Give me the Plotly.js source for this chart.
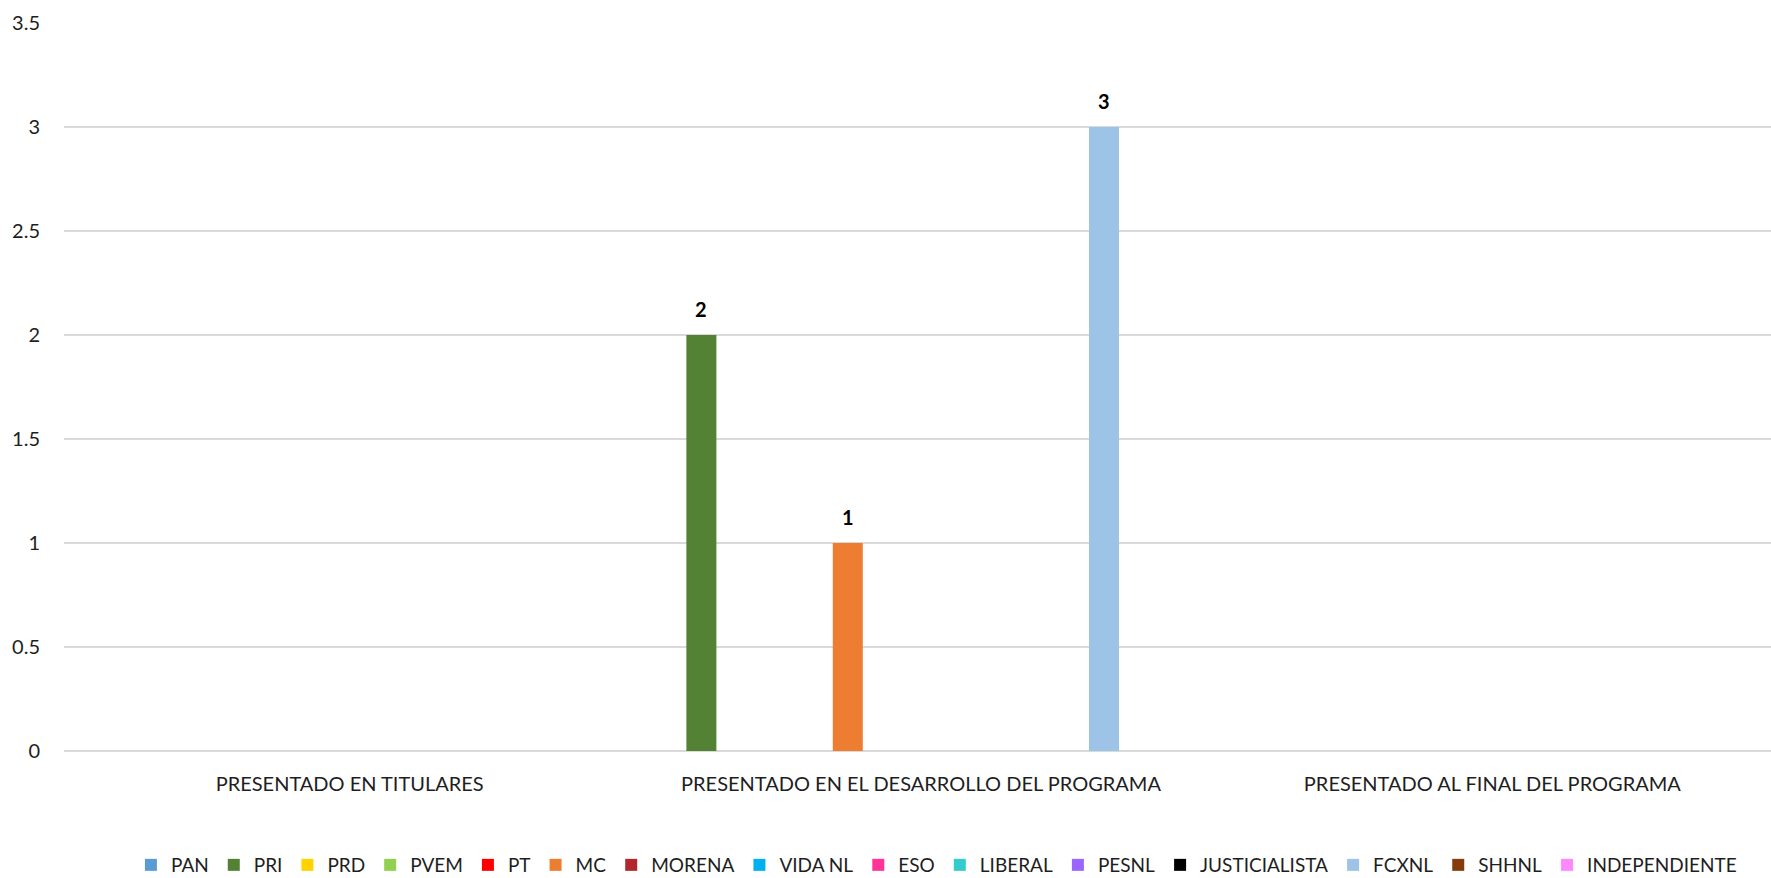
<!DOCTYPE html>
<html>
<head>
<meta charset="utf-8">
<script src="https://cdn.plot.ly/plotly-3.0.1.min.js"></script>
<style>
html,body{margin:0;padding:0;overflow:hidden;background:#fff;}
#chart{width:1778px;height:878px;}
</style>
</head>
<body>
<div id="chart"></div>
<script>
var categories = ["PRESENTADO EN TITULARES", "PRESENTADO EN EL DESARROLLO DEL PROGRAMA", "PRESENTADO AL FINAL DEL PROGRAMA"];
var parties = ["PAN","PRI","PRD","PVEM","PT","MC","MORENA","VIDA NL","ESO","LIBERAL","PESNL","JUSTICIALISTA","FCXNL","SHHNL","INDEPENDIENTE"];
var colors = ["#5B9BD5","#548235","#FFD200","#92D050","#FF0000","#ED7D31","#B0282E","#00B0F0","#FF3399","#33CCCC","#9966FF","#000000","#9DC3E6","#843C0C","#FF88FF"];
var PAN = [0,0,0];
var PRI = [0,2,0];
var PRD = [0,0,0];
var PVEM = [0,0,0];
var PT = [0,0,0];
var MC = [0,1,0];
var MORENA = [0,0,0];
var VIDA_NL = [0,0,0];
var ESO = [0,0,0];
var LIBERAL = [0,0,0];
var PESNL = [0,0,0];
var JUSTICIALISTA = [0,0,0];
var FCXNL = [0,3,0];
var SHHNL = [0,0,0];
var INDEPENDIENTE = [0,0,0];
var values = [PAN,PRI,PRD,PVEM,PT,MC,MORENA,VIDA_NL,ESO,LIBERAL,PESNL,JUSTICIALISTA,FCXNL,SHHNL,INDEPENDIENTE];

var FONT = "Lato, 'Liberation Sans Narrow', sans-serif";
var TXT = '#1e1e1e';
var W = 1778, ML = 64, MR = 0;
var BARGAP = 0.039;

var traces = parties.map(function(p, i){
  return {
    type: 'bar',
    name: p,
    x: categories,
    y: values[i],
    marker: {color: colors[i]},
    hoverinfo: 'name+y'
  };
});

// data labels placed over each grouped bar
var slotPx = (W - ML - MR) / categories.length * (1 - BARGAP) / parties.length;
var annotations = [];
values.forEach(function(arr, i){
  arr.forEach(function(v, j){
    if (v > 0) {
      annotations.push({
        x: categories[j], y: v, xref: 'x', yref: 'y',
        text: '<b>' + v + '</b>',
        showarrow: false,
        yanchor: 'bottom',
        yshift: 12,
        xshift: (i - (parties.length - 1) / 2) * slotPx,
        font: {family: FONT, size: 20, color: '#000'}
      });
    }
  });
});

var layout = {
  width: W,
  height: 878,
  margin: {l: ML, r: MR, t: 23, b: 127, autoexpand: false},
  paper_bgcolor: '#fff',
  plot_bgcolor: '#fff',
  barmode: 'group',
  bargap: BARGAP,
  bargroupgap: 0.18,
  font: {family: FONT, size: 20, color: TXT},
  annotations: annotations,
  xaxis: {
    type: 'category',
    showgrid: false,
    showline: false,
    zeroline: false,
    ticks: 'outside',
    ticklen: 15,
    tickcolor: 'rgba(0,0,0,0)',
    tickfont: {family: FONT, size: 20, color: TXT},
    fixedrange: true
  },
  yaxis: {
    range: [0, 3.5],
    dtick: 0.5,
    tick0: 0,
    showgrid: true,
    gridcolor: '#d9d9d9',
    gridwidth: 1.5,
    zeroline: true,
    zerolinecolor: '#d9d9d9',
    zerolinewidth: 2,
    showline: false,
    ticks: 'outside',
    ticklen: 19,
    tickcolor: 'rgba(0,0,0,0)',
    tickfont: {family: FONT, size: 20, color: TXT},
    fixedrange: true
  },
  showlegend: true,
  legend: {
    orientation: 'h',
    x: 0.509,
    xanchor: 'center',
    y: -0.1566,
    yanchor: 'middle',
    font: {family: FONT, size: 19, color: TXT},
    itemwidth: 30,
    traceorder: 'normal',
    itemclick: false,
    itemdoubleclick: false
  }
};

Plotly.newPlot('chart', traces, layout, {displayModeBar: false});
</script>
</body>
</html>
